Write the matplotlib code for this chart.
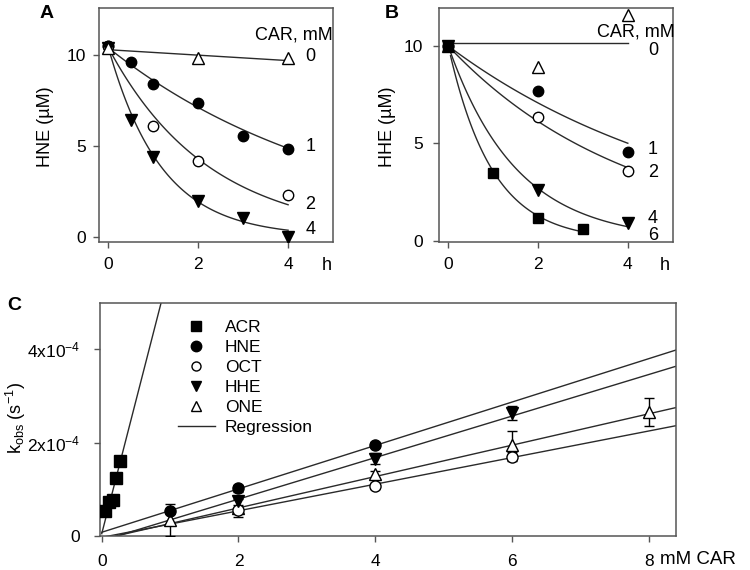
import numpy as np
import matplotlib
matplotlib.use('Agg')
import matplotlib.pyplot as plt
from matplotlib.lines import Line2D

plt.rcParams['font.family'] = ['Liberation Sans', 'DejaVu Sans']
plt.rcParams['mathtext.fontset'] = 'custom'
plt.rcParams['mathtext.rm'] = 'Liberation Sans'
plt.rcParams['mathtext.it'] = 'Liberation Sans:italic'
plt.rcParams['mathtext.bf'] = 'Liberation Sans:bold'
FS = 12.5
plt.rcParams['font.size'] = FS

# ---------------- Panel A data (HNE, µM vs h) ----------------
a_t0 = [0, 2, 4]
a_y0 = [10.4, 9.85, 9.85]
a_t1 = [0, 0.5, 1, 2, 3, 4]
a_y1 = [10.5, 9.63, 8.39, 7.35, 5.55, 4.82]
a_t2 = [0, 1, 2, 4]
a_y2 = [10.5, 6.12, 4.19, 2.31]
a_t4 = [0, 0.5, 1, 2, 3, 4]
a_y4 = [10.4, 6.45, 4.41, 1.98, 1.03, 0.0]
a_line0 = [10.3, 9.7]           # linear fit, CAR 0
a_fit_start = 10.4
a_fit_k = [0.19, 0.445, 0.848]  # first-order fits, CAR 1, 2, 4 (1/h)
a_labels = ['0', '1', '2', '4']
a_label_y = [9.9, 4.95, 1.76, 0.38]

# ---------------- Panel B data (HHE, µM vs h) ----------------
b_t0 = [0, 2, 4]
b_y0 = [10.0, 8.9, 11.6]
b_t1 = [0, 2, 4]
b_y1 = [10.0, 7.7, 4.57]
b_t2 = [0, 2, 4]
b_y2 = [10.0, 6.37, 3.58]
b_t4 = [0, 2, 4]
b_y4 = [10.0, 2.6, 0.9]
b_t6 = [0, 1, 2, 3]
b_y6 = [10.0, 3.46, 1.15, 0.6]
b_line0 = 10.15
b_fit_start = 10.0
b_fit_k = [0.173, 0.245, 0.658, 1.03]
b_labels = ['0', '1', '2', '4', '6']
b_label_y = [9.79, 4.66, 3.51, 1.15, 0.29]

# ---------------- Panel C data (kobs vs mM CAR) ----------------
acr_car = [0.05, 0.10, 0.16, 0.21, 0.26]
acr_k = [0.54e-4, 0.73e-4, 0.77e-4, 1.25e-4, 1.60e-4]
hne_car = [1, 2, 4]
hne_k = [0.53e-4, 1.02e-4, 1.96e-4]
hne_err = [0.03e-4, 0.07e-4, 0.05e-4]
oct_car = [2, 4, 6]
oct_k = [0.56e-4, 1.07e-4, 1.70e-4]
oct_err = [0.05e-4, 0.07e-4, 0.10e-4]
hhe_car = [2, 4, 6]
hhe_k = [0.75e-4, 1.66e-4, 2.63e-4]
hhe_err = [0.08e-4, 0.12e-4, 0.15e-4]
one_car = [1, 2, 4, 6, 8]
one_k = [0.34e-4, 0.60e-4, 1.32e-4, 1.95e-4, 2.66e-4]
one_err = [0.35e-4, 0.20e-4, 0.08e-4, 0.30e-4, 0.30e-4]
# regression (slope, intercept)
reg_acr = (5.7e-4, 0.05e-4)
reg_hne = (0.465e-4, 0.08e-4)
reg_hhe = (0.445e-4, -0.10e-4)
reg_one = (0.336e-4, -0.07e-4)
reg_oct = (0.285e-4, -0.03e-4)
c_yticks = [0, 2e-4, 4e-4]
c_yticklabels = ['0', '2x10$^{-4}$', '4x10$^{-4}$']

W, H = 750, 570
fig = plt.figure(figsize=(7.5, 5.7), dpi=100)

def axes_px(l, t, r, b):
    return fig.add_axes([l / W, 1 - b / H, (r - l) / W, (b - t) / H])

LC = '#2a2a2a'
SC = '#555555'

def style(ax, xpad, ypad):
    for s in ax.spines.values():
        s.set_color(SC)
        s.set_linewidth(1.1)
    ax.tick_params(direction='out', length=4, width=1, color=SC, labelsize=FS)
    ax.tick_params(axis='x', pad=xpad)
    ax.tick_params(axis='y', pad=ypad)

def fcirc(ax, x, y, ms=7.5):
    ax.plot(x, y, 'o', color='black', ms=ms, ls='none', zorder=3)

def ocirc(ax, x, y, ms=7.5):
    ax.plot(x, y, 'o', mfc='white', mec='black', mew=1, ms=ms, ls='none', zorder=3)

def otri(ax, x, y, ms=8):
    ax.plot(x, y, '^', mfc='white', mec='black', mew=1, ms=ms, ls='none', zorder=3)

def ftri(ax, x, y, ms=8):
    ax.plot(x, y, 'v', color='black', ms=ms, ls='none', zorder=3)

def fsq(ax, x, y, ms=7.5):
    ax.plot(x, y, 's', color='black', ms=ms, ls='none', zorder=3)

# ---------------- Panel A ----------------
axA = axes_px(99.5, 8, 333, 242)
style(axA, 7, 6)
tt = np.linspace(0, 4, 100)
axA.plot([0, 4], a_line0, color=LC, lw=1)
for k in a_fit_k:
    axA.plot(tt, a_fit_start * np.exp(-k * tt), color=LC, lw=1)
fcirc(axA, a_t1, a_y1)
ocirc(axA, a_t2, a_y2)
ftri(axA, a_t4, a_y4)
otri(axA, a_t0, a_y0)
axA.set_xlim(-0.2, 5.0)
axA.set_ylim(-0.3, 12.6)
axA.set_xticks([0, 2, 4])
axA.set_yticks([0, 5, 10])
for lab, yy in zip(a_labels, a_label_y):
    axA.text(4.5, yy, lab, ha='center', va='center', size=13)
axA.text(4.13, 11.1, 'CAR, mM', ha='center', va='center', size=13)

# ---------------- Panel B ----------------
axB = axes_px(439.3, 8, 672.7, 241.7)
style(axB, 7, 8)
axB.plot([0, 4], [b_line0, b_line0], color=LC, lw=1)
tb = np.linspace(0.05, 4, 100)
for k in b_fit_k[:3]:
    axB.plot(tb, b_fit_start * np.exp(-k * tb), color=LC, lw=1)
tb6 = np.linspace(0.05, 3, 100)
axB.plot(tb6, b_fit_start * np.exp(-b_fit_k[3] * tb6), color=LC, lw=1)
otri(axB, b_t0, b_y0)
ocirc(axB, b_t2, b_y2)
ftri(axB, b_t4, b_y4)
fsq(axB, b_t6, b_y6)
fcirc(axB, b_t1, b_y1)
axB.set_xlim(-0.2, 5.0)
axB.set_ylim(-0.05, 11.95)
axB.set_xticks([0, 2, 4])
axB.set_yticks([0, 5, 10])
for lab, yy in zip(b_labels, b_label_y):
    axB.text(4.56, yy, lab, ha='center', va='center', size=13)
axB.text(4.17, 10.74, 'CAR, mM', ha='center', va='center', size=13)

# ---------------- Panel C ----------------
axC = axes_px(99.7, 302.7, 676, 536)
style(axC, 9, 10)
xr = np.array([0, 8.4])
for s, b in [reg_hne, reg_hhe, reg_one, reg_oct]:
    axC.plot(xr, s * xr + b, color=LC, lw=1, zorder=2)
xa = np.array([0, 1.0])
axC.plot(xa, reg_acr[0] * xa + reg_acr[1], color=LC, lw=1, zorder=2)

ekw = dict(ls='none', ecolor='black', elinewidth=1, capsize=3.5, capthick=1, zorder=3)
axC.errorbar(one_car, one_k, yerr=one_err, fmt='^', mfc='white', mec='black', mew=1, ms=8, **ekw)
axC.errorbar(oct_car, oct_k, yerr=oct_err, fmt='o', mfc='white', mec='black', mew=1, ms=8, **ekw)
axC.errorbar(hhe_car, hhe_k, yerr=hhe_err, fmt='v', color='black', ms=8, **ekw)
axC.errorbar(hne_car, hne_k, yerr=hne_err, fmt='o', color='black', ms=8, **ekw)
axC.plot(acr_car, acr_k, 's', color='black', ms=8.5, ls='none', zorder=4)

axC.set_xlim(-0.03, 8.4)
axC.set_ylim(0, 5e-4)
axC.set_xticks([0, 2, 4, 6, 8])
axC.set_yticks(c_yticks)
axC.set_yticklabels(c_yticklabels)

handles = [
    Line2D([], [], marker='s', color='black', ls='none', ms=7),
    Line2D([], [], marker='o', color='black', ls='none', ms=7.5),
    Line2D([], [], marker='o', mfc='white', mec='black', mew=1, ls='none', ms=6.5),
    Line2D([], [], marker='v', color='black', ls='none', ms=7.5),
    Line2D([], [], marker='^', mfc='white', mec='black', mew=1, ls='none', ms=7.5),
    Line2D([], [], color=LC, lw=1),
]
labels = ['ACR', 'HNE', 'OCT', 'HHE', 'ONE', 'Regression']
fig.legend(handles, labels, loc='upper left', bbox_to_anchor=(178 / W, 1 - 320 / H),
           frameon=False, borderpad=0, borderaxespad=0, handlelength=2.13,
           handletextpad=0.57, labelspacing=0.28, fontsize=FS)

# ---------------- Figure texts ----------------
fig.text(47 / W, 1 - 14 / H, 'A', ha='center', va='center', weight='bold', size=14)
fig.text(392 / W, 1 - 13 / H, 'B', ha='center', va='center', weight='bold', size=14)
fig.text(14 / W, 1 - 305 / H, 'C', ha='center', va='center', weight='bold', size=14)
fig.text(46 / W, 1 - 127 / H, 'HNE (\u00b5M)', rotation=90, ha='center', va='center', size=13)
fig.text(388 / W, 1 - 127 / H, 'HHE (\u00b5M)', rotation=90, ha='center', va='center', size=13)
fig.text(16 / W, 1 - 418 / H, 'k$_{\\mathrm{obs}}$ (s$^{\\mathrm{-1}}$)', rotation=90,
         ha='center', va='center', size=13)
fig.text(327 / W, 1 - 265 / H, 'h', ha='center', va='center', size=13)
fig.text(665 / W, 1 - 265 / H, 'h', ha='center', va='center', size=13)
fig.text(660 / W, 1 - 560 / H, 'mM CAR', ha='left', va='center', size=13.5)

fig.savefig('out.png', dpi=100)
